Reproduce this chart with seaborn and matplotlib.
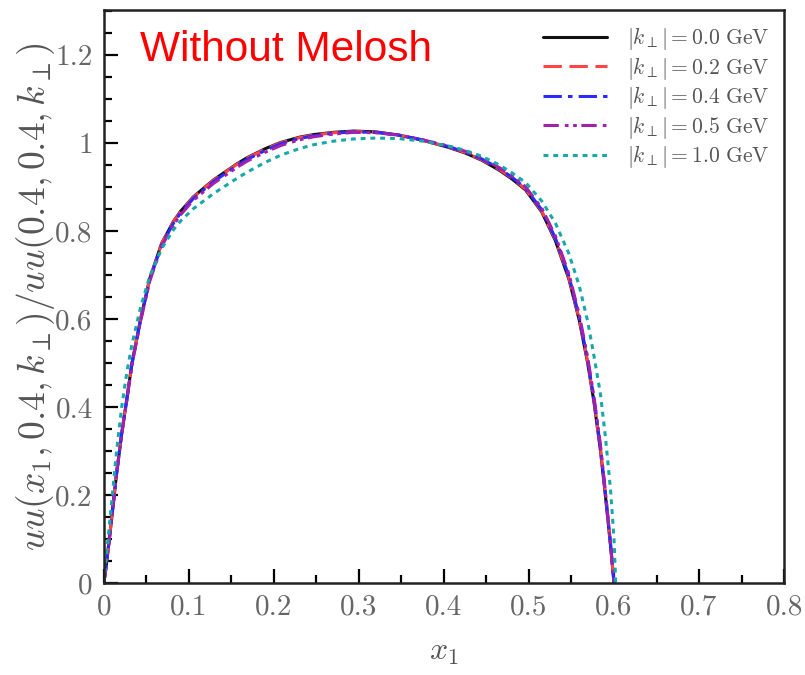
import matplotlib
matplotlib.use("Agg")
import matplotlib.pyplot as plt
import seaborn as sns
from matplotlib.ticker import MultipleLocator, FixedLocator

# ---- data ----
x1 = [0.0, 0.003, 0.009, 0.015, 0.021, 0.027, 0.033, 0.043, 0.054, 0.068,
      0.082, 0.09, 0.105, 0.129, 0.157, 0.169, 0.19, 0.208, 0.23, 0.247,
      0.27, 0.294, 0.32, 0.346, 0.375, 0.405, 0.425, 0.444, 0.465, 0.48,
      0.496, 0.515, 0.531, 0.547, 0.559, 0.569, 0.5765, 0.584, 0.59, 0.596, 0.6]

uu_k00 = [0.0, 0.042, 0.143, 0.249, 0.34, 0.418, 0.499, 0.598, 0.692, 0.772,
          0.822, 0.844, 0.877, 0.916, 0.953, 0.967, 0.987, 1.001, 1.013, 1.019,
          1.024, 1.027, 1.025, 1.018, 1.006, 0.99, 0.977, 0.961, 0.938, 0.918,
          0.893, 0.843, 0.778, 0.69, 0.598, 0.5, 0.41, 0.302, 0.196, 0.083, 0.0]
uu_k02 = [0.0, 0.042, 0.143, 0.249, 0.34, 0.417, 0.498, 0.597, 0.691, 0.771,
          0.821, 0.843, 0.876, 0.915, 0.952, 0.966, 0.986, 1.000, 1.012, 1.018,
          1.023, 1.026, 1.024, 1.018, 1.006, 0.991, 0.978, 0.962, 0.94, 0.92,
          0.895, 0.845, 0.781, 0.693, 0.601, 0.503, 0.413, 0.305, 0.199, 0.085, 0.0]
uu_k04 = [0.0, 0.042, 0.143, 0.249, 0.339, 0.416, 0.497, 0.595, 0.689, 0.768,
          0.818, 0.840, 0.873, 0.912, 0.949, 0.963, 0.983, 0.998, 1.010, 1.016,
          1.022, 1.025, 1.024, 1.018, 1.007, 0.992, 0.979, 0.964, 0.942, 0.922,
          0.897, 0.848, 0.784, 0.697, 0.605, 0.507, 0.417, 0.309, 0.202, 0.087, 0.0]
uu_k05 = [0.0, 0.042, 0.143, 0.248, 0.338, 0.415, 0.495, 0.593, 0.686, 0.765,
          0.814, 0.836, 0.869, 0.908, 0.945, 0.959, 0.979, 0.994, 1.007, 1.014,
          1.020, 1.024, 1.023, 1.018, 1.007, 0.993, 0.981, 0.966, 0.944, 0.925,
          0.900, 0.852, 0.789, 0.702, 0.611, 0.513, 0.423, 0.314, 0.206, 0.089, 0.0]

x1_k10 = [0.0, 0.003, 0.009, 0.015, 0.021, 0.027, 0.033, 0.043, 0.054, 0.068,
          0.082, 0.09, 0.105, 0.129, 0.157, 0.169, 0.19, 0.208, 0.23, 0.247,
          0.27, 0.294, 0.32, 0.346, 0.375, 0.405, 0.425, 0.444, 0.465, 0.48,
          0.496, 0.515, 0.531, 0.547, 0.559, 0.569, 0.5765, 0.584, 0.59, 0.596,
          0.6, 0.602]
uu_k10 = [0.0, 0.062, 0.18, 0.30, 0.40, 0.478, 0.542, 0.625, 0.697, 0.760,
          0.803, 0.822, 0.850, 0.885, 0.92, 0.934, 0.956, 0.972, 0.987, 0.996,
          1.004, 1.009, 1.011, 1.01, 1.004, 0.993, 0.983, 0.97, 0.95, 0.932,
          0.91, 0.868, 0.818, 0.748, 0.676, 0.595, 0.515, 0.43, 0.33, 0.21,
          0.1, 0.0]

labels = [r"$|k_{\perp}| = 0.0\ \mathrm{GeV}$",
          r"$|k_{\perp}| = 0.2\ \mathrm{GeV}$",
          r"$|k_{\perp}| = 0.4\ \mathrm{GeV}$",
          r"$|k_{\perp}| = 0.5\ \mathrm{GeV}$",
          r"$|k_{\perp}| = 1.0\ \mathrm{GeV}$"]
xs = [x1, x1, x1, x1, x1_k10]
series = [uu_k00, uu_k02, uu_k04, uu_k05, uu_k10]
colors = ["#111111", "#ff4444", "#2a2aff", "#a020b0", "#17a8a8"]
styles = ["-", (0, (6, 2.5)), (0, (6, 2, 1.5, 2)), (0, (5, 2, 1.2, 1.5, 1.2, 1.5)), (0, (1.6, 1.6))]

xticks = [0, 0.1, 0.2, 0.3, 0.4, 0.5, 0.6, 0.7, 0.8]
xticklabels = ["0", "0.1", "0.2", "0.3", "0.4", "0.5", "0.6", "0.7", "0.8"]
yticks = [0, 0.2, 0.4, 0.6, 0.8, 1.0, 1.2]
yticklabels = ["0", "0.2", "0.4", "0.6", "0.8", "1", "1.2"]

# ---- style ----
sns.set_style("ticks")
plt.rcParams["font.family"] = ["cmr10", "DejaVu Serif"]
plt.rcParams["mathtext.fontset"] = "cm"
plt.rcParams["axes.unicode_minus"] = False
plt.rcParams["axes.formatter.use_mathtext"] = True

fig = plt.figure(figsize=(8.05, 6.75), dpi=100)
ax = fig.add_axes([0.129, 0.1363, 0.845, 0.8489])

for x, y, lab, c, ls in zip(xs, series, labels, colors, styles):
    sns.lineplot(x=x, y=y, ax=ax, color=c, linestyle=ls, linewidth=2.2,
                 label=lab, sort=False)

ax.set_xlim(0, 0.8)
ax.set_ylim(0, 1.302)
ax.xaxis.set_major_locator(FixedLocator(xticks))
ax.set_xticklabels(xticklabels)
ax.yaxis.set_major_locator(FixedLocator(yticks))
ax.set_yticklabels(yticklabels)
ax.xaxis.set_minor_locator(MultipleLocator(0.05))
ax.yaxis.set_minor_locator(MultipleLocator(0.05))
ax.tick_params(which="both", direction="in", top=False, right=False,
               width=1.6, color="black")
ax.tick_params(which="major", length=10, labelsize=21, labelcolor="#666666", pad=8)
ax.tick_params(which="minor", length=6)
for sp in ax.spines.values():
    sp.set_linewidth(1.8)
    sp.set_color("#222222")
    sp.set_visible(True)

ax.set_xlabel(r"$x_1$", fontsize=23, color="#555555", labelpad=14)
ax.set_ylabel(r"$uu(x_1, 0.4, k_{\perp})/uu(0.4, 0.4, k_{\perp})$",
              fontsize=27, color="#555555", labelpad=-1)

leg = ax.legend(loc="upper right", frameon=False, fontsize=15.5,
                handlelength=3.0, labelspacing=0.12, borderaxespad=0.3,
                handletextpad=0.9, labelcolor="#555555")

ax.text(0.053, 0.93, "Without Melosh", transform=ax.transAxes, color="red",
        fontsize=30.5, family="Liberation Sans", va="center", ha="left")

fig.savefig("out.png", dpi=100)
